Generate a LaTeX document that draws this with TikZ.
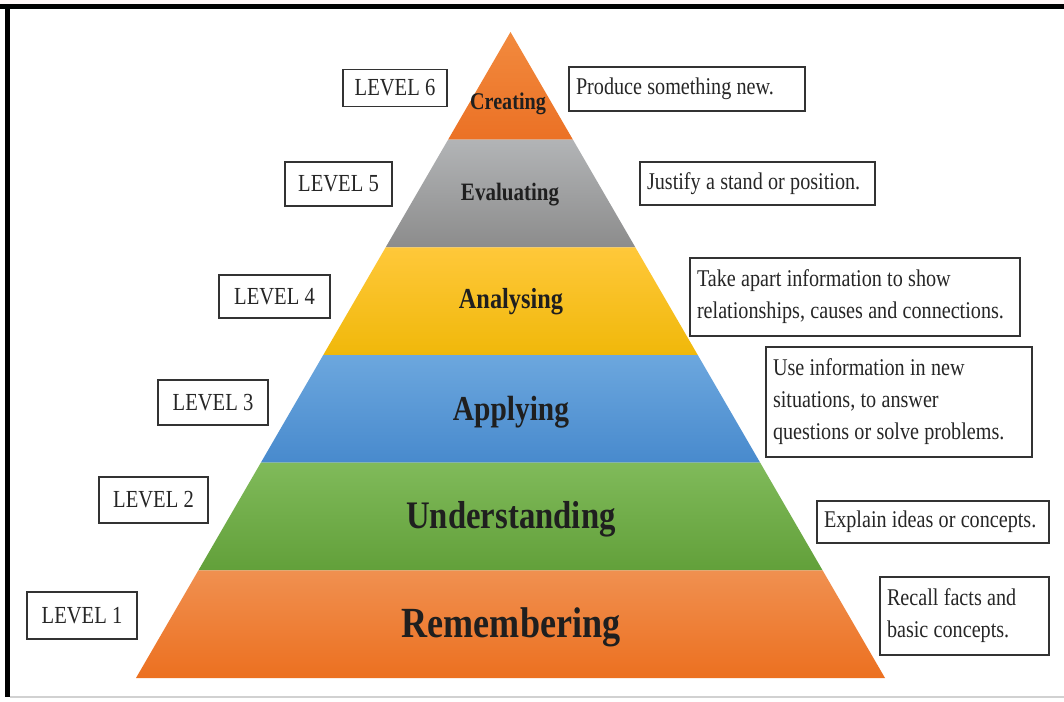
\documentclass[tikz,border=0pt]{standalone}
\usepackage{fontspec}
\setmainfont{Liberation Serif}
\newfontfamily\boxfont[FakeStretch=0.84]{Liberation Serif}
\newfontfamily\tierfont[FakeStretch=0.84]{Liberation Serif}
\newcommand\tightspaces{\spaceskip=0.22em plus 0.02em minus 0.02em\xspaceskip=0.27em\relax}
\usetikzlibrary{calc}
\begin{document}
\begin{tikzpicture}[x=1pt,y=-1pt,
  lvl/.style={draw=black!80, line width=1.3pt, fill=white,
    font=\boxfont\fontsize{24.5}{28}\selectfont, text=black!85, inner sep=0pt},
  desc/.style={draw=black!80, line width=1.3pt, fill=white,
    font=\boxfont\fontsize{24}{32}\selectfont, text=black!85,
    align=left, inner xsep=7pt, inner ysep=0pt,
    execute at begin node=\tightspaces},
  tier/.style={font=\tierfont\bfseries\fontsize{#1}{#1}\selectfont,
    text=black!88, anchor=base}
]
\useasboundingbox (0,0) rectangle (1064,701);
% page and frame
\fill[white] (0,0) rectangle (1064,701);
\fill[red!3] (0,0) rectangle (1064,4);
\fill[black] (0,4) rectangle (1064,9);
\fill[black] (5,4) rectangle (10,697);
\fill[black!18] (10,696) rectangle (1064,697.5);

% pyramid corners
\coordinate (apex) at (510.5,32);
\coordinate (bl) at (136,678);
\coordinate (br) at (885,678);

% bands, top to bottom
\shade[top color={rgb,255:red,242;green,138;blue,62}, bottom color={rgb,255:red,235;green,113;blue,37}]
  (apex) -- ($(apex)!1/6!(br)$) -- ($(apex)!1/6!(bl)$) -- cycle;
\shade[top color={rgb,255:red,178;green,180;blue,182}, bottom color={rgb,255:red,140;green,140;blue,140}]
  ($(apex)!1/6!(bl)$) -- ($(apex)!1/6!(br)$) -- ($(apex)!2/6!(br)$) -- ($(apex)!2/6!(bl)$) -- cycle;
\shade[top color={rgb,255:red,255;green,200;blue,58}, bottom color={rgb,255:red,240;green,184;blue,10}]
  ($(apex)!2/6!(bl)$) -- ($(apex)!2/6!(br)$) -- ($(apex)!3/6!(br)$) -- ($(apex)!3/6!(bl)$) -- cycle;
\shade[top color={rgb,255:red,108;green,167;blue,222}, bottom color={rgb,255:red,72;green,138;blue,205}]
  ($(apex)!3/6!(bl)$) -- ($(apex)!3/6!(br)$) -- ($(apex)!4/6!(br)$) -- ($(apex)!4/6!(bl)$) -- cycle;
\shade[top color={rgb,255:red,128;green,186;blue,90}, bottom color={rgb,255:red,98;green,160;blue,58}]
  ($(apex)!4/6!(bl)$) -- ($(apex)!4/6!(br)$) -- ($(apex)!5/6!(br)$) -- ($(apex)!5/6!(bl)$) -- cycle;
\shade[top color={rgb,255:red,240;green,144;blue,80}, bottom color={rgb,255:red,236;green,112;blue,32}]
  ($(apex)!5/6!(bl)$) -- ($(apex)!5/6!(br)$) -- (br) -- (bl) -- cycle;

% tier names
\node[tier=24] (creating) at (508,109) {Creating};
\node[tier=25] (evaluating) at (510,200) {Evaluating};
\node[tier=29] (analysing) at (511,308) {Analysing};
\node[tier=35] (applying) at (511,420) {Applying};
\node[tier=39] (understanding) at (511,528) {Understanding};
\node[tier=43] (remembering) at (511,637) {Remembering};

% level labels
\node[lvl, minimum width=104pt, minimum height=37pt] (lv6) at (395,88) {LEVEL 6};
\node[lvl, minimum width=107pt, minimum height=44pt] (lv5) at (338.5,184) {LEVEL 5};
\node[lvl, minimum width=111pt, minimum height=43pt] (lv4) at (274.5,296.5) {LEVEL 4};
\node[lvl, minimum width=110pt, minimum height=45pt] (lv3) at (213,402.5) {LEVEL 3};
\node[lvl, minimum width=109pt, minimum height=46pt] (lv2) at (153.5,500) {LEVEL 2};
\node[lvl, minimum width=110pt, minimum height=47pt] (lv1) at (82,615.5) {LEVEL 1};

% descriptions
\node[desc, text width=222pt, minimum height=44pt] (d6) at (687,89) {Produce something new.};
\node[desc, text width=221pt, minimum height=43pt] (d5) at (757.5,183.5) {Justify a stand or position.};
\node[desc, text width=316pt, minimum height=78pt] (d4) at (855,297)
  {Take apart information to show\\relationships, causes and connections.};
\node[desc, text width=252pt, minimum height=110pt] (d3) at (899,402)
  {Use information in new\\situations, to answer\\questions or solve problems.};
\node[desc, text width=218pt, minimum height=42pt] (d2) at (933,522) {Explain ideas or concepts.};
\node[desc, text width=155pt, minimum height=78pt] (d1) at (964.5,616)
  {Recall facts and\\basic concepts.};
\end{tikzpicture}
\end{document}
